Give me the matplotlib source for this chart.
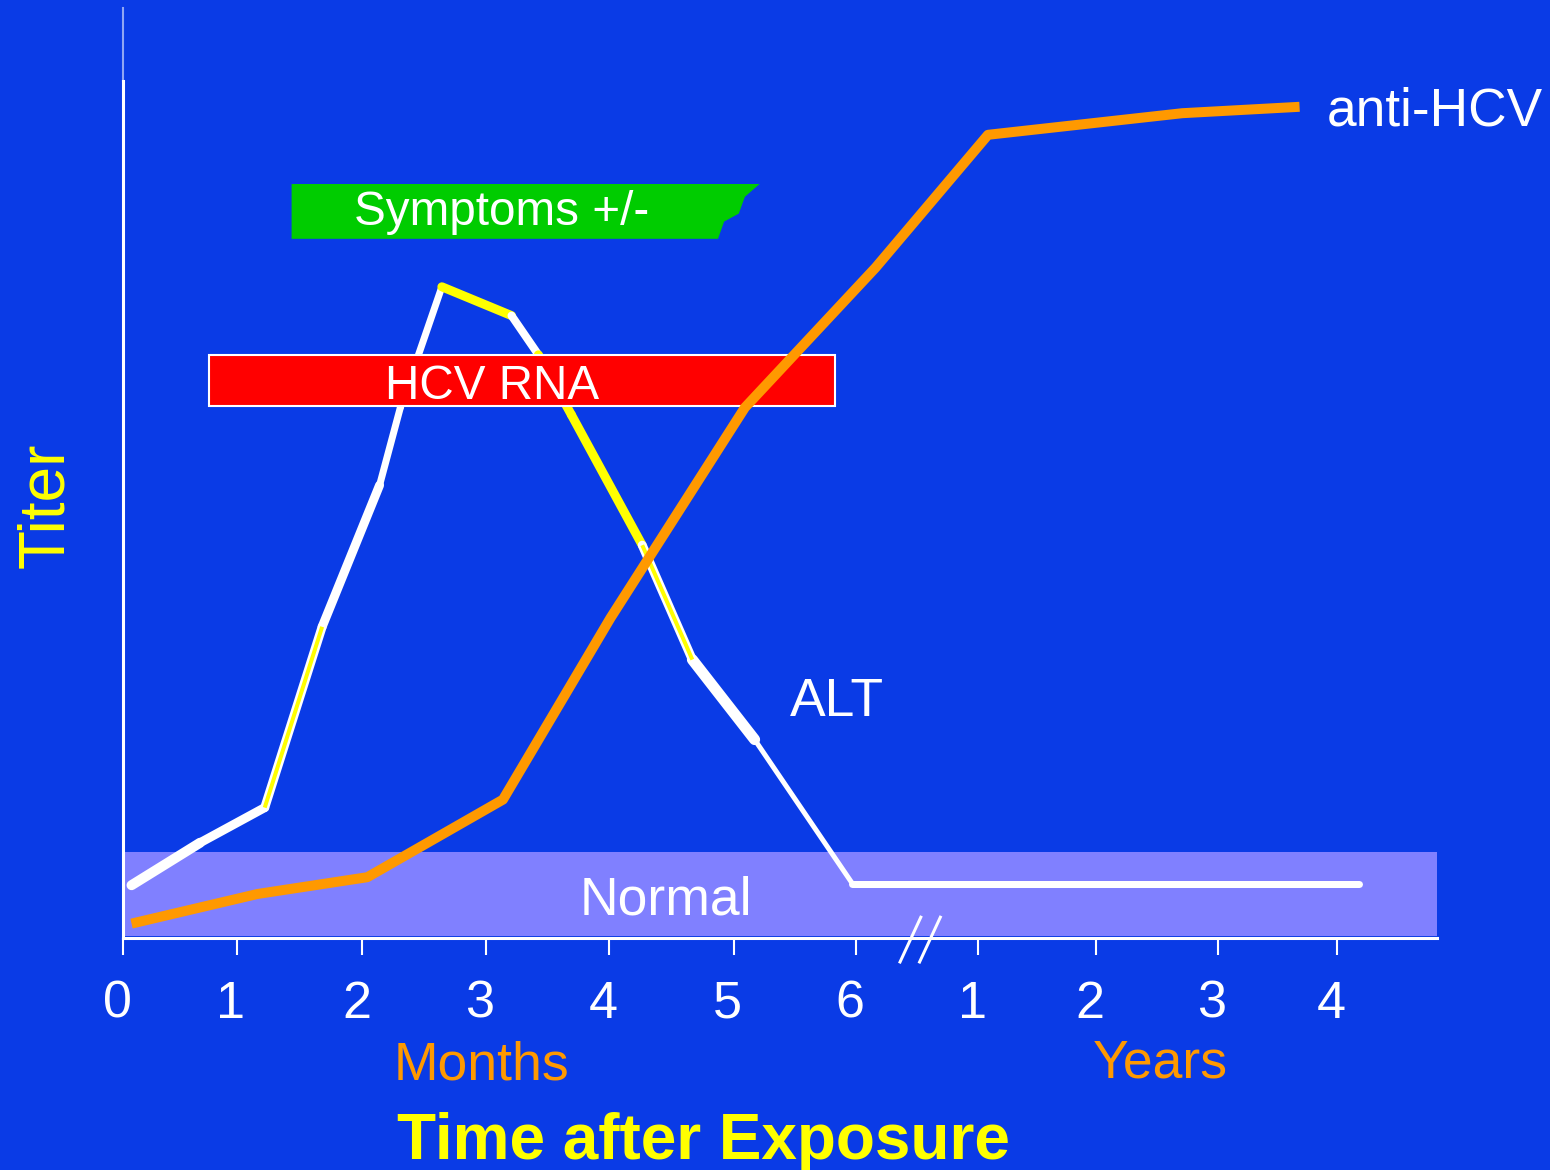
import numpy as np
import matplotlib.pyplot as plt
from matplotlib.patches import Rectangle, Polygon
from matplotlib.transforms import ScaledTranslation

plt.rcParams['font.family'] = ['Liberation Sans', 'DejaVu Sans']

# Farben
bg = '#0a3be6'
orange = '#ff9900'
gelb = '#ffff00'

# x-Achse: 0-6 Monate, danach 1-4 Jahre (gestaucht, eine Einheit pro Tick)
tick_pos = [0, 0.93, 1.96, 2.97, 3.98, 5.0, 6.0, 7.0, 7.96, 8.96, 9.94]
tick_labels = ['0', '1', '2', '3', '4', '5', '6', '1', '2', '3', '4']

# ALT-Verlauf (Titer, willkuerliche Einheiten)
alt_t = [0.07, 0.63, 1.16, 1.63, 2.10, 2.27, 2.61, 3.18, 3.40, 3.67, 4.25, 4.66, 5.17, 5.97, 10.12]
alt_y = [6.6, 11.9, 16.3, 38.9, 56.6, 66.3, 81.4, 77.8, 72.9, 65.4, 49.1, 34.8, 24.8, 6.8, 6.8]

# anti-HCV-Verlauf
hcv_t = [0.07, 1.10, 2.00, 3.11, 3.99, 5.09, 6.16, 7.08, 8.67, 9.63]
hcv_y = [1.8, 5.5, 7.6, 17.3, 40.0, 66.3, 83.8, 100.4, 103.1, 103.9]

# Zeitfenster der Balken
rna_start, rna_end = 0.70, 5.83
rna_lo, rna_hi = 66.5, 72.9
sym_start, sym_end = 1.38, 5.21
sym_lo, sym_hi = 87.4, 94.25
normal_lo, normal_hi = 0.3, 10.75

# Stil der einzelnen ALT-Abschnitte (Pixelbreite, Farbe, gelber Kern)
seg_color = ['white', 'white', 'white', 'white', 'white', 'white', gelb, 'white',
             gelb, gelb, 'white', 'white', 'white', 'white']
seg_px = [10, 9, 9, 9, 7, 7, 9, 8, 9, 9, 9, 11, 5, 7]
seg_core = [False, False, True, False, False, False, False, False,
            False, False, True, False, False, False]

px = 100 / 72  # Pixel pro Punkt bei dpi 100

fig = plt.figure(figsize=(15.5, 11.7), dpi=100, facecolor=bg)
ax = fig.add_axes([123 / 1550, 232 / 1170, 1314 / 1550, 930 / 1170])
ax.set_facecolor(bg)
ax.set_xlim(0, 10.755)
ax.set_ylim(0, 116.25)

# Normalbereich
ax.add_patch(Rectangle((0, normal_lo), 10.755, normal_hi - normal_lo,
                       facecolor='#8080ff', edgecolor='none', zorder=1))
ax.text(4.445, 2.9, 'Normal', color='white', fontsize=38.5, ha='center',
        va='baseline', zorder=2)

# ALT
for i in range(len(alt_t) - 1):
    ax.plot(alt_t[i:i + 2], alt_y[i:i + 2], color=seg_color[i],
            lw=seg_px[i] / px, solid_capstyle='round', zorder=3)
    if seg_core[i]:
        ax.plot(alt_t[i:i + 2], alt_y[i:i + 2], color=gelb, lw=4 / px,
                solid_capstyle='butt', zorder=3.5)
ax.text(5.84, 27.75, 'ALT', color='white', fontsize=38.5, ha='center', va='baseline')

# HCV RNA Balken
ax.add_patch(Rectangle((rna_start, rna_lo), rna_end - rna_start, rna_hi - rna_lo,
                       facecolor='#ff0000', edgecolor='white', lw=1.5, zorder=5))
ax.text(3.02, 67.4, 'HCV RNA', color='white', fontsize=34.3, ha='center',
        va='baseline', zorder=6)

# anti-HCV
ax.plot(hcv_t, hcv_y, color=orange, lw=10 / px, solid_capstyle='butt',
        solid_joinstyle='round', zorder=7)
ax.text(9.855, 101.6, 'anti-HCV', color='white', fontsize=38.3, ha='left',
        va='baseline', clip_on=False)

# Symptome (rechter Rand ausgefranst)
sym_shape = [(sym_start, sym_lo), (sym_start, sym_hi), (sym_end, sym_hi),
             (sym_end - 0.12, sym_hi - 1.6), (sym_end - 0.17, sym_hi - 3.7),
             (sym_end - 0.29, sym_hi - 4.7), (sym_end - 0.34, sym_lo)]
ax.add_patch(Polygon(sym_shape, closed=True, facecolor='#00cc00',
                     edgecolor='none', zorder=8))
ax.text(3.10, 89.1, 'Symptoms +/-', color='white', fontsize=34.3, ha='center',
        va='baseline', zorder=9)

# Achsen
for s in ['top', 'right']:
    ax.spines[s].set_visible(False)
for s in ['left', 'bottom']:
    ax.spines[s].set_color('white')
    ax.spines[s].set_linewidth(2.2)
ax.spines['left'].set_bounds(0, 107.1)
ax.plot([0, 0], [107.1, 116.25], color='white', alpha=0.55, lw=1.5, clip_on=False)

ax.set_yticks([])
ax.set_xticks(tick_pos)
ax.set_xticklabels(tick_labels)
ax.tick_params(axis='x', colors='white', length=12, width=1.5, direction='out',
               pad=18, labelsize=37.5)
shift = ScaledTranslation(-0.06, 0, fig.dpi_scale_trans)
for lbl in ax.get_xticklabels():
    lbl.set_transform(lbl.get_transform() + shift)

# Achsenbruch //
for dx in [0, 0.16]:
    ax.plot([6.36 + dx, 6.53 + dx], [-3.0, 2.6], color='white', lw=3 / px,
            clip_on=False, zorder=10)

ax.text(2.93, -17.75, 'Months', color=orange, fontsize=38.5, ha='center', va='baseline')
ax.text(8.49, -17.4, 'Years', color=orange, fontsize=38.5, ha='center', va='baseline')
ax.text(4.75, -27.6, 'Time after Exposure', color=gelb, fontsize=46,
        fontweight='bold', ha='center', va='baseline')
ax.text(-0.63, 54.1, 'Titer', color=gelb, fontsize=46, rotation=90,
        ha='center', va='center')

fig.savefig('out.png', dpi=100, facecolor=bg)
